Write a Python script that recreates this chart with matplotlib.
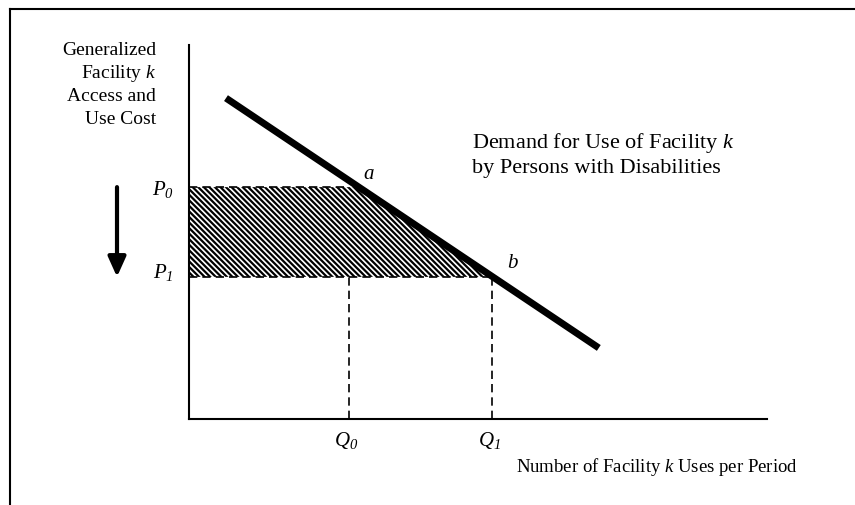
import matplotlib
matplotlib.use('Agg')
import matplotlib.pyplot as plt
from matplotlib.lines import Line2D
import numpy as np

plt.rcParams['font.family'] = 'Liberation Serif'
plt.rcParams['mathtext.fontset'] = 'custom'
# only P, Q, k and their subscripts go through mathtext, all italic in the original
plt.rcParams['mathtext.rm'] = 'Liberation Serif:italic'
plt.rcParams['mathtext.it'] = 'Liberation Serif:italic'
plt.rcParams['hatch.linewidth'] = 1.6

# demand curve end points (quantity, cost); both axes run 0..100
demand_q = [6.4, 70.9]
demand_p = [85.8, 19.0]
price_levels = [62.0, 38.0]     # P0, P1
quantities = [27.7, 52.4]       # Q0, Q1
price_labels = [r'$P_0$', r'$P_1$']
qty_labels = [r'$Q_0$', r'$Q_1$']
point_labels = ['a', 'b']
y_label_lines = ['Generalized', 'Facility $k$', 'Access and', 'Use Cost']
demand_lines = ['Demand for Use of Facility $k$', 'by Persons with Disabilities']
x_label = 'Number of Facility $k$ Uses per Period'

W, H = 855, 506
FS = 14


def fx(x):
    return x / W


def fy(y):
    return 1 - y / H


fig = plt.figure(figsize=(W / 100, H / 100), dpi=100)
ax = fig.add_axes([fx(189), fy(420), 578 / W, 374 / H])
ax.set_xlim(0, 100)
ax.set_ylim(0, 100)
ax.set_xticks([])
ax.set_yticks([])
for s in ['top', 'right']:
    ax.spines[s].set_visible(False)
for s in ['left', 'bottom']:
    ax.spines[s].set_linewidth(1.5)

# where the demand line crosses each price level
p_asc = demand_p[::-1]
q_asc = demand_q[::-1]
q_cross = [np.interp(p, p_asc, q_asc) for p in price_levels]

# hatched consumer surplus gain
ax.fill([0, q_cross[0], q_cross[1], 0],
        [price_levels[0], price_levels[0], price_levels[1], price_levels[1]],
        facecolor='white', edgecolor='k', hatch='\\' * 6, lw=0, zorder=1)

dash = dict(color='k', lw=1.2, dashes=(5, 3), zorder=2, clip_on=False)
ax.plot([0, quantities[0]], [price_levels[0]] * 2, **dash)
ax.plot([0, quantities[1]], [price_levels[1]] * 2, **dash)
for q in quantities:
    ax.plot([q, q], [0, price_levels[1]], **dash)

ax.plot(demand_q, demand_p, color='k', lw=5, solid_capstyle='butt',
        zorder=3, clip_on=False)

# point labels a, b
ax.annotate(point_labels[0], xy=(q_cross[0], price_levels[0]),
            xytext=(7, 10), textcoords='offset points', ha='center',
            va='center', style='italic', fontsize=FS + 1)
ax.annotate(point_labels[1], xy=(q_cross[1], price_levels[1]),
            xytext=(14, 10), textcoords='offset points', ha='center',
            va='center', style='italic', fontsize=FS + 1)

# price and quantity labels
for p, lab, dy in zip(price_levels, price_labels, [-1, 4]):
    ax.annotate(lab, xy=(0, p), xytext=(-11, dy), textcoords='offset points',
                ha='right', va='center', fontsize=FS + 1)
for q, lab in zip(quantities, qty_labels):
    ax.annotate(lab, xy=(q, 0), xytext=(-2, -7), textcoords='offset points',
                ha='center', va='top', fontsize=FS + 1)

# price drop arrow
ax.annotate('', xy=(fx(117), price_levels[1]), xycoords=('figure fraction', 'data'),
            xytext=(fx(117), price_levels[0]), textcoords=('figure fraction', 'data'),
            arrowprops=dict(arrowstyle='-|>,head_length=0.6,head_width=0.27',
                            color='k', lw=3, shrinkA=0, shrinkB=0,
                            mutation_scale=20))

# axis titles
for i, line in enumerate(y_label_lines):
    fig.text(fx(156), fy(55 + 23 * i), line, ha='right', va='baseline', fontsize=FS)
for i, line in enumerate(demand_lines):
    fig.text(fx(472), fy(148 + 25 * i), line, ha='left', va='baseline', fontsize=16)
fig.text(fx(798), fy(472), x_label, ha='right', va='baseline', fontsize=13.5)

# outer frame (left and top edges)
fig.add_artist(Line2D([fx(9.5), fx(9.5)], [0, fy(9.5)], color='k', lw=1.5))
fig.add_artist(Line2D([fx(9.5), 1], [fy(9.5), fy(9.5)], color='k', lw=1.5))

fig.savefig('out.png', dpi=100)
